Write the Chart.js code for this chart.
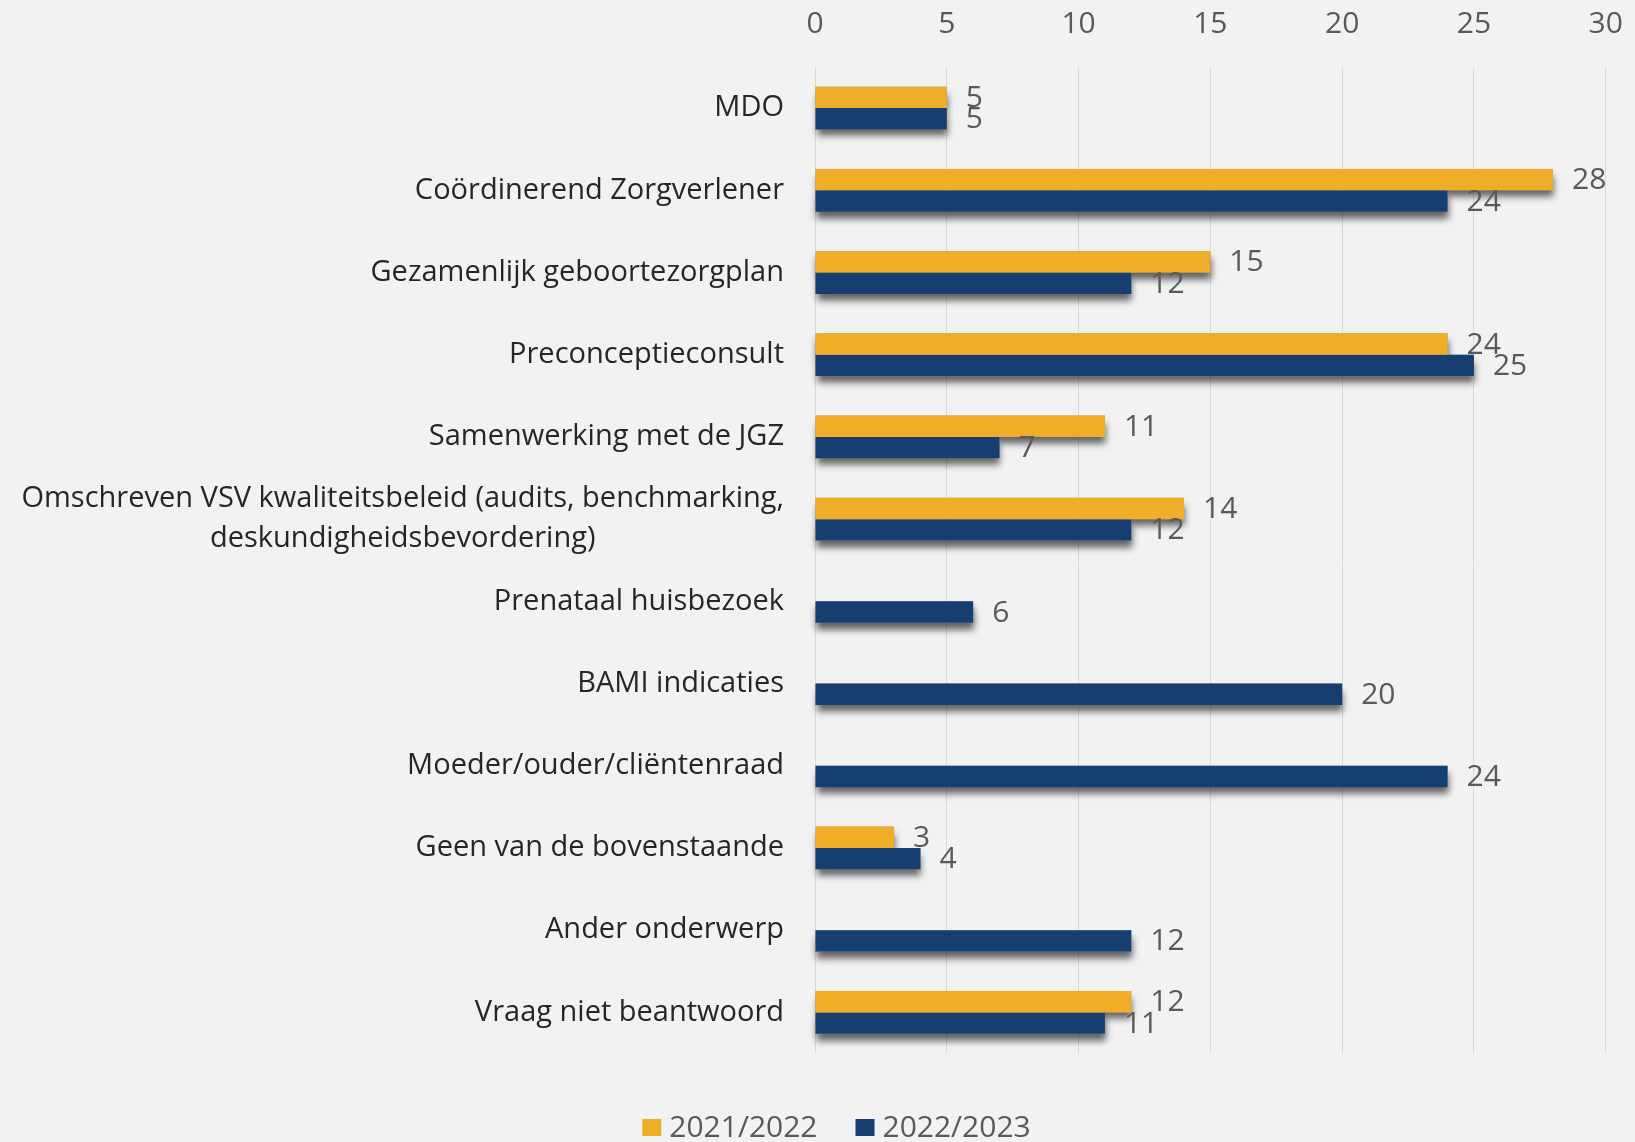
<!DOCTYPE html>
<html>
<head>
<meta charset="utf-8">
<script src="https://cdn.jsdelivr.net/npm/chart.js@4.4.0/dist/chart.umd.min.js"></script>
<style>
  html, body { margin: 0; padding: 0; background: #f2f2f2; }
  #wrap { width: 1635px; height: 1142px; }
</style>
</head>
<body>
<div id="wrap"><canvas id="chart"></canvas></div>
<script>
// Onderwerpen (categorieën)
const categories = [
    'MDO',
    'Coördinerend Zorgverlener',
    'Gezamenlijk geboortezorgplan',
    'Preconceptieconsult',
    'Samenwerking met de JGZ',
    ['Omschreven VSV kwaliteitsbeleid (audits, benchmarking,', 'deskundigheidsbevordering)'],
    'Prenataal huisbezoek',
    'BAMI indicaties',
    'Moeder/ouder/cliëntenraad',
    'Geen van de bovenstaande',
    'Ander onderwerp',
    'Vraag niet beantwoord'
];

const seriesNames = ['2021/2022', '2022/2023'];
const values2122 = [5, 28, 15, 24, 11, 14, null, null, null, 3, null, 12];
const values2223 = [5, 24, 12, 25, 7, 12, 6, 20, 24, 4, 12, 11];
const seriesColors = ['#F0AE28', '#173E70'];

const xMin = 0;
const xMax = 30;
const xStep = 5;

const FONT = "'Open Sans', sans-serif";

// schaduw onder de balken
const barShadow = {
    id: 'barShadow',
    beforeDatasetsDraw(chart) {
        const ctx = chart.ctx;
        ctx.save();
        ctx.shadowColor = 'rgba(0,0,0,0.6)';
        ctx.shadowBlur = 7;
        ctx.shadowOffsetX = 1;
        ctx.shadowOffsetY = 7;
        ctx.fillStyle = '#999';
        chart.data.datasets.forEach((ds, d) => {
            chart.getDatasetMeta(d).data.forEach((el, i) => {
                if (ds.data[i] == null) return;
                const p = el.getProps(['x', 'y', 'base', 'height'], true);
                ctx.fillRect(Math.min(p.base, p.x), p.y - p.height / 2, Math.abs(p.x - p.base), p.height);
            });
        });
        ctx.restore();
    }
};

// waarden naast de balken
const valueLabels = {
    id: 'valueLabels',
    afterDatasetsDraw(chart) {
        const ctx = chart.ctx;
        ctx.save();
        ctx.font = '30px ' + FONT;
        ctx.fillStyle = '#595959';
        ctx.textAlign = 'left';
        ctx.textBaseline = 'middle';
        chart.data.datasets.forEach((ds, d) => {
            chart.getDatasetMeta(d).data.forEach((el, i) => {
                const v = ds.data[i];
                if (v == null) return;
                ctx.fillText(String(v), el.x + 19, el.y + 1);
            });
        });
        ctx.restore();
    }
};

// categorie-labels: blok rechts uitgelijnd, regels gecentreerd
const categoryLabels = {
    id: 'categoryLabels',
    afterDraw(chart) {
        const ctx = chart.ctx;
        const yScale = chart.scales.y;
        const right = chart.chartArea.left - 31;
        ctx.save();
        ctx.font = '29px ' + FONT;
        ctx.fillStyle = '#262626';
        ctx.textAlign = 'center';
        ctx.textBaseline = 'middle';
        chart.data.labels.forEach((lab, i) => {
            const lines = Array.isArray(lab) ? lab : [lab];
            const w = Math.max(...lines.map(l => ctx.measureText(l).width));
            const cx = right - w / 2;
            const cy = yScale.getPixelForValue(i);
            lines.forEach((l, j) => {
                ctx.fillText(l, cx, cy + (j - (lines.length - 1) / 2) * 40);
            });
        });
        ctx.restore();
    }
};

// legenda onderaan
const bottomLegend = {
    id: 'bottomLegend',
    afterDraw(chart) {
        const ctx = chart.ctx;
        ctx.save();
        ctx.font = '30px ' + FONT;
        ctx.textBaseline = 'middle';
        ctx.textAlign = 'left';
        const box = 19, gap = 8, between = 38;
        const widths = chart.data.datasets.map(ds => ctx.measureText(ds.label).width);
        const total = widths.reduce((a, w) => a + box + gap + w, 0) + between * (widths.length - 1);
        let x = chart.width / 2 + 19 - total / 2;
        const y = 1128;
        chart.data.datasets.forEach((ds, d) => {
            ctx.fillStyle = ds.backgroundColor;
            ctx.fillRect(x, y - 9, box, 17);
            ctx.fillStyle = '#595959';
            ctx.fillText(ds.label, x + box + gap, y);
            x += box + gap + widths[d] + between;
        });
        ctx.restore();
    }
};

const ctx = document.getElementById('chart').getContext('2d');
new Chart(ctx, {
    type: 'bar',
    data: {
        labels: categories,
        datasets: [{
            label: seriesNames[0],
            data: values2122,
            backgroundColor: seriesColors[0],
            categoryPercentage: 0.52,
            barPercentage: 1
        }, {
            label: seriesNames[1],
            data: values2223,
            backgroundColor: seriesColors[1],
            categoryPercentage: 0.52,
            barPercentage: 1
        }]
    },
    options: {
        indexAxis: 'y',
        responsive: true,
        maintainAspectRatio: false,
        animation: false,
        layout: {
            padding: { left: 65, right: 29.3, top: 7, bottom: 88.5 }
        },
        scales: {
            x: {
                position: 'top',
                min: xMin,
                max: xMax,
                ticks: {
                    stepSize: xStep,
                    color: '#595959',
                    font: { family: FONT, size: 30 },
                    padding: 25
                },
                grid: { color: '#d9d9d9', lineWidth: 1, drawTicks: false },
                border: { display: false },
                afterFit(scale) {
                    scale.height -= 26;
                    scale.paddingLeft = 0;
                    scale.paddingRight = 0;
                }
            },
            y: {
                ticks: { display: false },
                grid: { display: false },
                border: { display: false },
                afterFit(scale) { scale.width = 750; }
            }
        },
        plugins: {
            tooltip: { enabled: false },
            legend: { display: false }
        }
    },
    plugins: [barShadow, valueLabels, categoryLabels, bottomLegend]
});
</script>
</body>
</html>
